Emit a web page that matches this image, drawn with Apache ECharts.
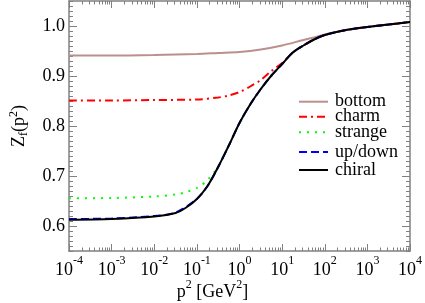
<!DOCTYPE html>
<html>
<head>
<meta charset="utf-8">
<script src="https://cdn.jsdelivr.net/npm/echarts@6/dist/echarts.min.js"></script>
<style>html,body{margin:0;padding:0;background:#fff}#c{width:425px;height:303px}</style>
</head>
<body>
<div id="c"></div>
<script>
// ---- data ----
const seriesNames = ['bottom', 'charm', 'strange', 'up/down', 'chiral'];
const xTickExponents = ['-4', '-3', '-2', '-1', '0', '1', '2', '3', '4'];
const yTickLabels = ['0.6', '0.7', '0.8', '0.9', '1.0'];

const pChiral = [1e-4, 1e-3, 1e-2, 0.0316, 0.0562, 0.1, 0.178, 0.316, 0.562, 1, 1.78, 3.16, 5.62, 10, 17.8, 31.6, 56.2, 100, 316, 1000, 3162, 10000];
const zChiral = [0.6125, 0.614, 0.619, 0.626, 0.637, 0.654, 0.680, 0.718, 0.761, 0.806, 0.843, 0.874, 0.901, 0.924, 0.947, 0.961, 0.973, 0.982, 0.992, 0.998, 1.003, 1.008];

const pUpDown = [1e-4, 1e-3, 1e-2, 0.0316, 0.1, 0.178, 0.316, 0.562, 1, 1.78, 3.16, 5.62, 10, 17.8, 31.6, 56.2, 100, 316, 1000, 3162, 10000];
const zUpDown = [0.614, 0.615, 0.620, 0.627, 0.654, 0.680, 0.718, 0.761, 0.806, 0.843, 0.874, 0.901, 0.924, 0.947, 0.961, 0.973, 0.982, 0.992, 0.998, 1.003, 1.008];

const pStrange = [1e-4, 1e-3, 1e-2, 0.0316, 0.0562, 0.1, 0.178, 0.316, 0.562, 1, 1.78, 3.16, 5.62, 10, 17.8, 31.6, 56.2, 100, 316, 1000, 3162, 10000];
const zStrange = [0.6555, 0.656, 0.659, 0.663, 0.668, 0.676, 0.692, 0.719, 0.761, 0.806, 0.843, 0.874, 0.901, 0.924, 0.947, 0.961, 0.973, 0.982, 0.992, 0.998, 1.003, 1.008];

const pCharm = [1e-4, 1e-3, 1e-2, 0.1, 0.316, 0.562, 1, 1.78, 3.16, 5.62, 10, 17.8, 31.6, 56.2, 100, 316, 1000, 3162, 10000];
const zCharm = [0.851, 0.851, 0.852, 0.853, 0.857, 0.861, 0.868, 0.879, 0.892, 0.910, 0.926, 0.947, 0.961, 0.973, 0.982, 0.992, 0.998, 1.003, 1.008];

const pBottom = [1e-4, 1e-3, 1e-2, 0.1, 0.316, 1, 3.16, 10, 31.6, 56.2, 100, 316, 1000, 3162, 10000];
const zBottom = [0.941, 0.941, 0.942, 0.944, 0.946, 0.948, 0.953, 0.961, 0.972, 0.977, 0.983, 0.992, 0.998, 1.003, 1.008];

const legendCenters = [101.7, 116.7, 132.3, 152, 170];

// ---- chart ----
const FONT = 'Liberation Serif';
const AX = '#808080';
const zip = (p, z) => p.map((v, i) => [v, z[i]]);

const xMinorLog = [];
for (let e = -4; e < 4; e++) for (let k = 2; k <= 9; k++) xMinorLog.push(e + Math.log10(k));
const yMinor = [];
for (let i = 55; i <= 105; i++) if (i % 10 !== 0) yMinor.push(i / 100);
const yMajor = yTickLabels.map(Number);

const chart = echarts.init(document.getElementById('c'), null, {renderer: 'canvas'});
const grid = {left: 57, right: 14, top: 1, bottom: 52};

const xLog = (pos, labels) => ({
  type: 'log', logBase: 10, min: 1e-4, max: 1e4, interval: 1, splitNumber: 8, position: pos,
  axisLine: {show: true, onZero: false, lineStyle: {color: AX, width: 1.5}},
  axisTick: {show: true, inside: true, length: 7, lineStyle: {color: AX, width: 1}},
  splitLine: {show: false},
  axisLabel: labels ? {
    show: true, margin: 4, fontFamily: FONT, color: '#000',
    formatter: v => '{b|10}{s|' + xTickExponents[Math.round(Math.log10(v)) + 4] + '}',
    rich: {
      b: {fontSize: 18, fontFamily: FONT, color: '#000', lineHeight: 24, verticalAlign: 'bottom'},
      s: {fontSize: 12, fontFamily: FONT, color: '#000', lineHeight: 12, verticalAlign: 'top'}
    }
  } : {show: false}
});
const xMin = (pos) => ({
  type: 'value', min: -4, max: 4, position: pos,
  axisLine: {show: false, onZero: false}, splitLine: {show: false}, axisLabel: {show: false},
  axisTick: {show: true, inside: true, length: 3.5, customValues: xMinorLog, lineStyle: {color: AX, width: 1}}
});
const yAx = (pos, labels) => ({
  type: 'value', min: 0.55, max: 1.05, position: pos,
  axisLine: {show: true, onZero: false, lineStyle: {color: AX, width: 1.5}},
  splitLine: {show: false},
  axisTick: {show: true, inside: true, length: 8, customValues: yMajor, lineStyle: {color: AX, width: 1}},
  axisLabel: labels ? {show: true, margin: 4, customValues: yMajor, fontFamily: FONT, fontSize: 18, color: '#000',
    formatter: v => yTickLabels[yMajor.findIndex(t => Math.abs(t - v) < 1e-6)]} : {show: false},
  name: labels ? '{b|Z}{sub|f}{b|(p}{sup|2}{b|)}' : '',
  nameLocation: 'middle', nameRotate: 90, nameGap: 39,
  nameTextStyle: {
    rich: {
      b: {fontSize: 18, fontFamily: FONT, color: '#000', lineHeight: 22, verticalAlign: 'middle'},
      sub: {fontSize: 12, fontFamily: FONT, color: '#000', lineHeight: 12, verticalAlign: 'bottom'},
      sup: {fontSize: 12, fontFamily: FONT, color: '#000', lineHeight: 12, verticalAlign: 'top'}
    }
  }
});
const yMinAx = (pos) => ({
  type: 'value', min: 0.55, max: 1.05, position: pos,
  axisLine: {show: false, onZero: false}, splitLine: {show: false}, axisLabel: {show: false},
  axisTick: {show: true, inside: true, length: 4, customValues: yMinor, lineStyle: {color: AX, width: 1}}
});

const mk = (name, p, z, color, type) => ({
  name, type: 'line', data: zip(p, z), xAxisIndex: 0, yAxisIndex: 0,
  symbol: 'none', showSymbol: false, smooth: 0.3, silent: true, animation: false,
  lineStyle: {color, width: 2, type}, itemStyle: {color}
});

const series = [
  mk('bottom', pBottom, zBottom, '#bc8f8f', 'solid'),
  mk('charm', pCharm, zCharm, '#ff0000', [8, 4, 2, 4]),
  mk('strange', pStrange, zStrange, '#00ff00', [2, 6]),
  mk('up/down', pUpDown, zUpDown, '#0000ff', [8, 4]),
  mk('chiral', pChiral, zChiral, '#000000', 'solid')
];

const legends = seriesNames.map((n, i) => ({
  data: [n], left: 298, top: legendCenters[i] - 9, padding: 0,
  itemWidth: 29, itemHeight: 18, itemGap: 0, selectedMode: false,
  itemStyle: {opacity: 0},
  textStyle: {fontFamily: FONT, fontSize: 18, color: '#000', lineHeight: 18, padding: [0, 0, 0, 2]}
}));

chart.setOption({
  animation: false,
  backgroundColor: '#fff',
  grid,
  xAxis: [xLog('bottom', true), xMin('bottom'), xLog('top', false), xMin('top')],
  yAxis: [yAx('left', true), yMinAx('left'), yAx('right', false), yMinAx('right')],
  legend: legends,
  graphic: [{
    type: 'text', left: 'center', top: 279,
    style: {
      text: '{b|p}{s|2}{b| [GeV}{s|2}{b|]}',
      rich: {
        b: {fontSize: 18, fontFamily: FONT, fill: '#000', lineHeight: 22, verticalAlign: 'bottom'},
        s: {fontSize: 12, fontFamily: FONT, fill: '#000', lineHeight: 12, verticalAlign: 'top'}
      }
    },
    x: 0
  }],
  series
});
</script>
</body>
</html>
